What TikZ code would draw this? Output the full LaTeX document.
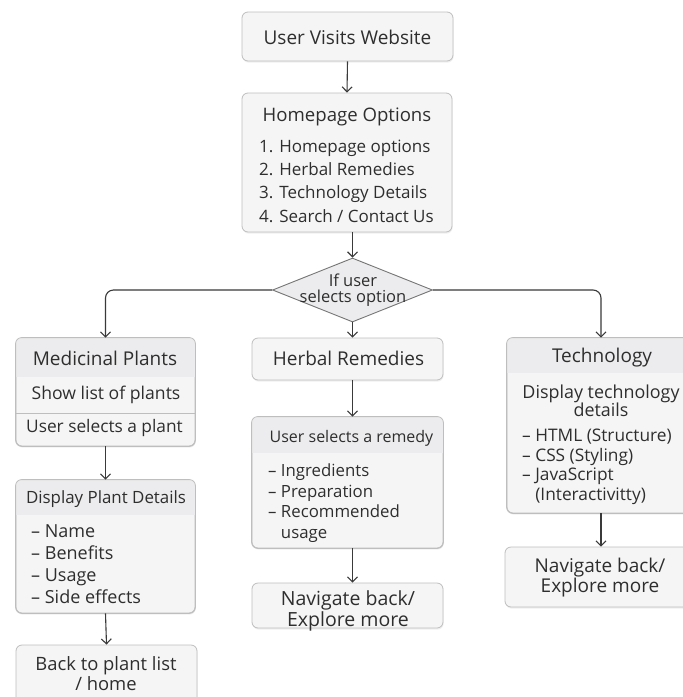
\documentclass[tikz,border=0pt]{standalone}
\usepackage{fontspec}
\setmainfont{Open Sans}
\usetikzlibrary{arrows.meta,shapes.geometric,shadows}
\definecolor{boxc}{HTML}{F5F5F6}
\definecolor{hdrc}{HTML}{ECECEE}
\definecolor{bordc}{HTML}{BEBEBE}
\definecolor{textc}{HTML}{2E2E2E}
\definecolor{arrc}{HTML}{3A3A3A}
\newcommand{\fs}[2]{\fontsize{#1}{#2}\selectfont}
\begin{document}
\begin{tikzpicture}[x=1pt,y=-1pt,
  box/.style={draw=bordc, fill=boxc, rounded corners=6pt, line width=0.8pt, inner sep=0pt,
    drop shadow={opacity=0.12, shadow xshift=0.6pt, shadow yshift=-1.6pt}},
  dec/.style={diamond, draw=arrc!70, fill=hdrc, line width=0.9pt, inner sep=0pt, aspect=2.5},
  txt/.style={text=textc, inner sep=0pt},
  ttl/.style={txt, font=\fs{19}{22}},
  bdy/.style={txt, font=\fs{17.5}{23.3}},
  itm/.style={txt, font=\fs{17}{22}, align=left, anchor=west},
  arr/.style={draw=arrc, line width=1.1pt, -{Straight Barb[length=5pt,width=10pt,line width=1.1pt]}},
  sep/.style={draw=bordc, line width=0.8pt}
]
\useasboundingbox (0,0) rectangle (683,697);
\fill[white] (0,0) rectangle (683,697);

% ---------- boxes ----------
\node[box, minimum width=211pt, minimum height=49pt] (visit) at (347.5,36.5) {};
\node[box, minimum width=210pt, minimum height=139pt] (home) at (347,162.5) {};
\node[dec, minimum width=160pt, minimum height=64pt] (decn) at (352.5,290) {};
\node[box, minimum width=179pt, minimum height=108pt] (med) at (105.5,392) {};
\node[box, minimum width=179pt, minimum height=133pt] (det) at (105.5,546.5) {};
\node[box, minimum width=181pt, minimum height=67pt] (back) at (106.5,678.5) {};
\node[box, minimum width=191pt, minimum height=42pt] (herb) at (347.5,359) {};
\node[box, minimum width=191pt, minimum height=131pt] (rem) at (347.5,482.5) {};
\node[box, minimum width=191pt, minimum height=45pt] (nav2) at (347.5,605.5) {};
\node[box, minimum width=188pt, minimum height=175pt] (tech) at (601,425.5) {};
\node[box, minimum width=190pt, minimum height=60pt] (nav3) at (600,577) {};

% ---------- header shading ----------
\begin{scope}
  \clip[rounded corners=6pt] (med.north west) rectangle (med.south east);
  \fill[hdrc] (med.north west) rectangle (med.east |- 0,377);
\end{scope}
\draw[sep] (med.west |- 0,413) -- (med.east |- 0,413);
\begin{scope}
  \clip[rounded corners=6pt] (det.north west) rectangle (det.south east);
  \fill[hdrc] (det.north west) rectangle (det.east |- 0,515);
\end{scope}
\begin{scope}
  \clip[rounded corners=6pt] (rem.north west) rectangle (rem.south east);
  \fill[hdrc] (rem.north west) rectangle (rem.east |- 0,453);
\end{scope}
\begin{scope}
  \clip[rounded corners=6pt] (tech.north west) rectangle (tech.south east);
  \fill[hdrc] (tech.north west) rectangle (tech.east |- 0,373);
\end{scope}
\foreach \b in {med,det,rem,tech}
  \draw[draw=bordc, line width=0.8pt, rounded corners=6pt] (\b.north west) rectangle (\b.south east);

% ---------- texts ----------
\node[ttl] (tvisit) at (347.5,37) {User Visits Website};
\node[ttl, font=\fs{18.6}{22}] (thome) at (347,117) {Homepage Options};
\node[itm, font=\fs{17}{23.3}] (lhome) at (259,181) {1. Homepage options\\2. Herbal Remedies\\3. Technology Details\\4. Search / Contact Us};
\node[txt, font=\fs{16.5}{15.5}, align=center] (tdec) at (353,290) {If user\\selects option};

\node[ttl] (tmed) at (105,358) {Medicinal Plants};
\node[bdy, font=\fs{17.6}{22}] (tshow) at (106,395) {Show list of plants};
\node[bdy, font=\fs{17.3}{22}] (tsel) at (104.5,428) {User selects a plant};

\node[ttl, font=\fs{16.9}{22}] (tdet) at (106,499) {Display Plant Details};
\node[itm, font=\fs{18}{22}] (ldet) at (31,564) {– Name\\– Benefits\\– Usage\\– Side effects};

\node[ttl, font=\fs{18.4}{19.5}, align=center] (tback) at (106,673.5) {Back to plant list\\/ home};

\node[ttl] (therb) at (348.5,358) {Herbal Remedies};
\node[bdy, font=\fs{16}{22}] (trem) at (351.5,438) {User selects a remedy};
\node[itm, font=\fs{16.8}{20.5}] (lrem) at (268,503) {– Ingredients\\– Preparation\\– Recommended\\\hphantom{– }usage};
\node[ttl, font=\fs{19.5}{18.5}, align=center] (tnav2) at (348,611) {Navigate back/\\Explore more};

\node[ttl] (ttech) at (602,358) {Technology};
\node[bdy, font=\fs{17.9}{18.5}, align=center] (tdisp) at (601,401) {Display technology\\details};
\node[itm, font=\fs{17.3}{19.5}] (ltech) at (522,467) {– HTML (Structure)\\– CSS (Styling)\\– JavaScript\\\hphantom{– }(Interactivitty)};
\node[ttl, font=\fs{19}{20}, align=center] (tnav3) at (600,578) {Navigate back/\\Explore more};

% ---------- connectors ----------
\draw[arr] (visit.south) -- (home.north);
\draw[arr] (decn.north |- home.south) -- (decn.north);
\draw[arr] (decn.south) -- (decn.south |- herb.north);
\draw[arr, rounded corners=8pt] (decn.west) -| (med.north);
\draw[arr, rounded corners=8pt] (decn.east) -| (tech.north);
\draw[arr] (med.south) -- (det.north);
\draw[arr] (det.south) -- (back.north);
\draw[arr] (decn.south |- herb.south) -- (decn.south |- rem.north);
\draw[arr] (decn.south |- rem.south) -- (decn.south |- nav2.north);
\draw[arr] (tech.south) -- (tech.south |- nav3.north);
\end{tikzpicture}
\end{document}
